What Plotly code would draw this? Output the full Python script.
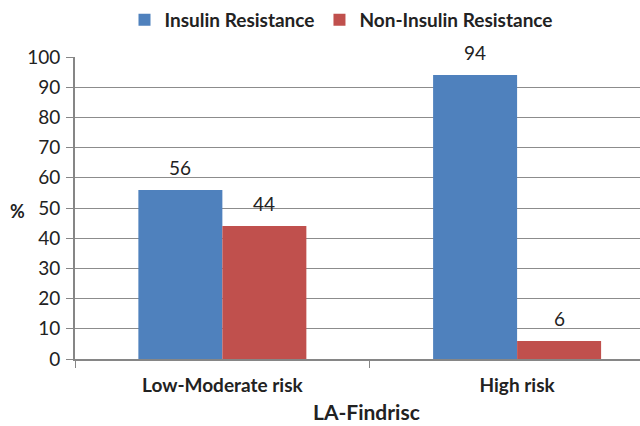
import plotly.graph_objects as go

categories = ["Low-Moderate risk", "High risk"]
insulin_resistance = [56, 94]
non_insulin_resistance = [44, 6]
y_ticks = list(range(0, 101, 10))

FONT = "Lato"
BAR_COLORS = ["#4F81BD", "#C0504D"]
series = [("Insulin Resistance", insulin_resistance), ("Non-Insulin Resistance", non_insulin_resistance)]

fig = go.Figure()
for (name, vals), col in zip(series, BAR_COLORS):
    fig.add_trace(go.Bar(name=name, x=categories, y=vals,
                         marker=dict(color=col, line=dict(width=0))))

L, T, B = 75, 57, 67
pw, ph = 640 - L, 426 - T - B
XRANGE = [-0.5, 1.417]
BARGAP = 0.43
px_per_cat = pw / (XRANGE[1] - XRANGE[0])
bar_px = (1 - BARGAP) / 2 * px_per_cat

def px(x):
    return (x - L) / pw

def py(y):
    return (426 - B - y) / ph

annotations = []
for si, (name, vals) in enumerate(series):
    shift = (si - 0.5) * bar_px
    for cat, v in zip(categories, vals):
        annotations.append(dict(text=str(v), x=cat, y=v, xref="x", yref="y",
                                xshift=shift, yshift=9, yanchor="bottom",
                                showarrow=False, font=dict(size=19, family=FONT, color="#222")))

annotations += [
    dict(text="<b>%</b>", x=px(17), y=py(211), xref="paper", yref="paper",
         showarrow=False, xanchor="center", yanchor="middle",
         font=dict(size=18, family=FONT)),
    dict(text="<b>LA-Findrisc</b>", x=px(366), y=py(412), xref="paper", yref="paper",
         showarrow=False, xanchor="center", yanchor="middle",
         font=dict(size=21, family=FONT)),
]

fig.update_layout(
    width=640, height=426,
    margin=dict(l=L, r=0, t=T, b=B),
    paper_bgcolor="white", plot_bgcolor="white",
    barmode="group", bargap=BARGAP, bargroupgap=0,
    font=dict(family=FONT, color="#222"),
    showlegend=True,
    legend=dict(orientation="h", x=px(341), xanchor="center", y=py(20), yanchor="middle",
                font=dict(size=19, family=FONT, weight="bold"),
                traceorder="normal"),
    xaxis=dict(range=XRANGE, showline=True, linecolor="#868686", linewidth=2,
               ticks="outside", tickson="boundaries", ticklen=7, tickcolor="#868686",
               tickfont=dict(size=19, family=FONT, weight="bold"), ticklabelstandoff=8,
               showgrid=False),
    yaxis=dict(range=[0, 100], tickvals=y_ticks, showline=True, linecolor="#868686",
               linewidth=2, ticks="outside", ticklen=7, tickcolor="#868686",
               gridcolor="#8c8c8c", gridwidth=1, tickfont=dict(size=19, family=FONT),
               ticklabelstandoff=2, zeroline=False),
    annotations=annotations,
)

fig.write_html("out.html")
